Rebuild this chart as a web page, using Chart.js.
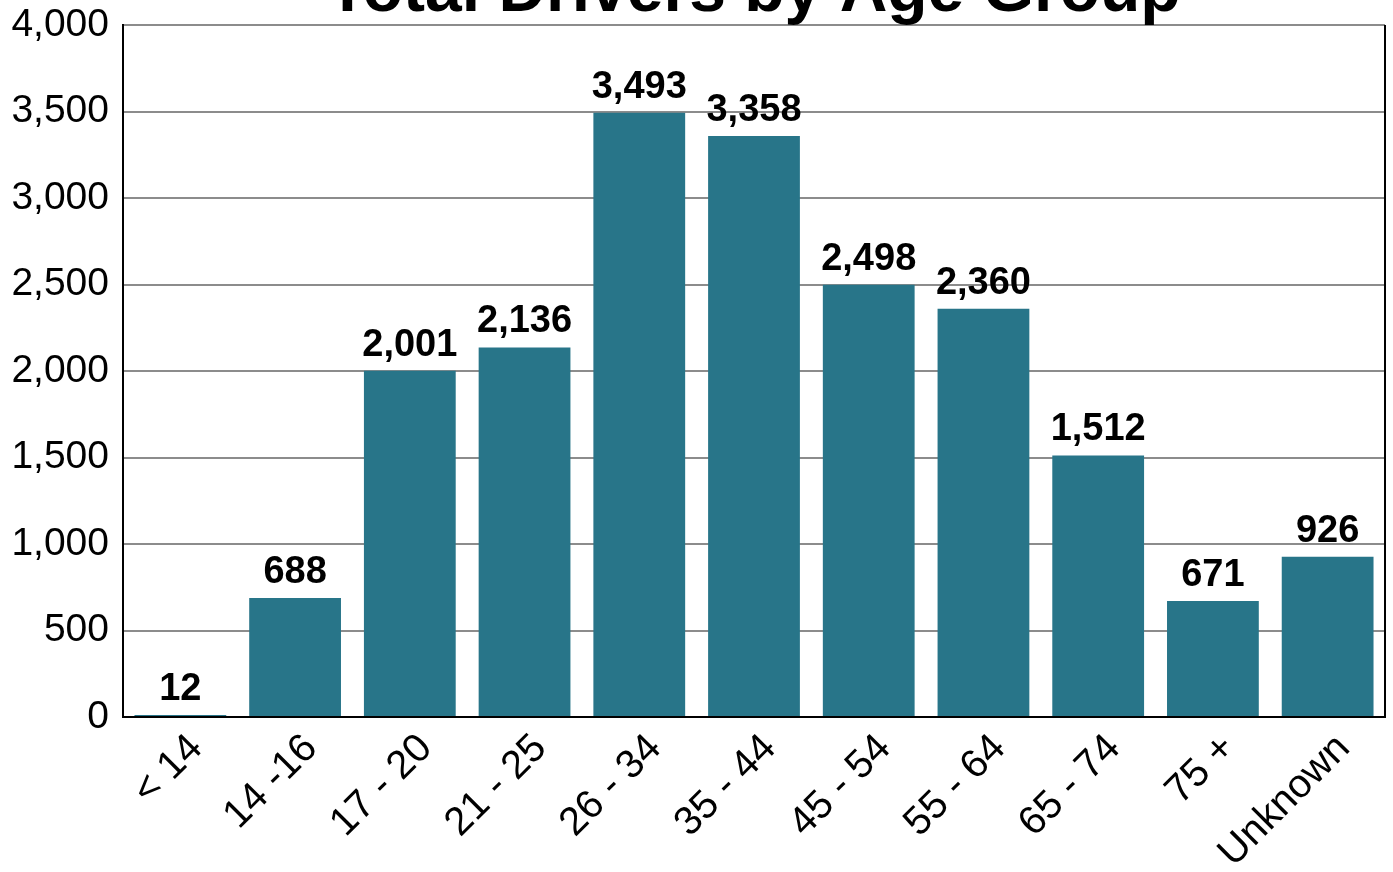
<!DOCTYPE html>
<html>
<head>
<meta charset="utf-8">
<script src="https://cdn.jsdelivr.net/npm/chart.js@4/dist/chart.umd.min.js"></script>
<style>
  html, body { margin: 0; padding: 0; background: #ffffff; overflow: hidden; }
  #wrap { position: relative; width: 1393px; height: 872px; }
</style>
</head>
<body>
<div id="wrap"><canvas id="ageChart"></canvas></div>
<script>
const ageGroups = ['< 14', '14 -16', '17 - 20', '21 - 25', '26 - 34', '35 - 44', '45 - 54', '55 - 64', '65 - 74', '75 +', 'Unknown'];
const driverCounts = [12, 688, 2001, 2136, 3493, 3358, 2498, 2360, 1512, 671, 926];
const yTicks = [0, 500, 1000, 1500, 2000, 2500, 3000, 3500, 4000];
const chartTitle = 'Total Drivers by Age Group';

const barColor = '#287589';
const fontFamily = '"Liberation Sans", Arial, sans-serif';

// value labels above each bar + title + right border
const extrasPlugin = {
    id: 'extras',
    afterDatasetsDraw(chart) {
        const ctx = chart.ctx;
        const area = chart.chartArea;
        const meta = chart.getDatasetMeta(0);
        ctx.save();
        ctx.fillStyle = '#000000';
        ctx.textAlign = 'center';
        ctx.textBaseline = 'alphabetic';
        ctx.font = 'bold 38px ' + fontFamily;
        meta.data.forEach(function(bar, i) {
            ctx.fillText(driverCounts[i].toLocaleString('en-US'), bar.x, bar.y - 15);
        });

        // right border of plot
        ctx.strokeStyle = '#000000';
        ctx.lineWidth = 2;
        ctx.beginPath();
        ctx.moveTo(area.right, area.top);
        ctx.lineTo(area.right, area.bottom + 1);
        ctx.stroke();

        // title, mostly above the visible area
        ctx.font = 'bold 66px ' + fontFamily;
        ctx.fillText(chartTitle, (area.left + area.right) / 2, 11);
        ctx.restore();
    }
};

document.addEventListener('DOMContentLoaded', function() {
    const ctx = document.getElementById('ageChart');
    new Chart(ctx.getContext('2d'), {
        type: 'bar',
        data: {
            labels: ageGroups,
            datasets: [{
                data: driverCounts,
                backgroundColor: barColor,
                barPercentage: 0.8,
                categoryPercentage: 1.0
            }]
        },
        options: {
            responsive: true,
            maintainAspectRatio: false,
            animation: false,
            layout: { padding: { top: 25, right: 8, left: 0, bottom: 0 } },
            plugins: {
                legend: { display: false },
                tooltip: { enabled: false },
                title: { display: false }
            },
            scales: {
                x: {
                    grid: { display: false, drawTicks: false },
                    border: { display: true, color: '#000000', width: 2 },
                    ticks: {
                        color: '#000000',
                        font: { family: fontFamily, size: 40 },
                        maxRotation: 45,
                        minRotation: 45,
                        padding: 8,
                        labelOffset: 16,
                        autoSkip: false
                    },
                    afterFit(scale) {
                        scale.height = 155;
                        scale.paddingLeft = 0;
                        scale.paddingRight = 0;
                    }
                },
                y: {
                    min: 0,
                    max: 4000,
                    afterBuildTicks(scale) {
                        scale.ticks = yTicks.map(function(v) { return { value: v }; });
                    },
                    grid: { color: '#8c8c8c', lineWidth: 2, drawTicks: false },
                    border: { display: true, color: '#000000', width: 2 },
                    ticks: {
                        color: '#000000',
                        font: { family: fontFamily, size: 39 },
                        padding: 14,
                        callback: function(v) { return Number(v).toLocaleString('en-US'); }
                    },
                    afterFit(scale) {
                        scale.width = 123;
                        scale.paddingTop = 0;
                        scale.paddingBottom = 0;
                    }
                }
            }
        },
        plugins: [extrasPlugin]
    });
});
</script>
</body>
</html>
